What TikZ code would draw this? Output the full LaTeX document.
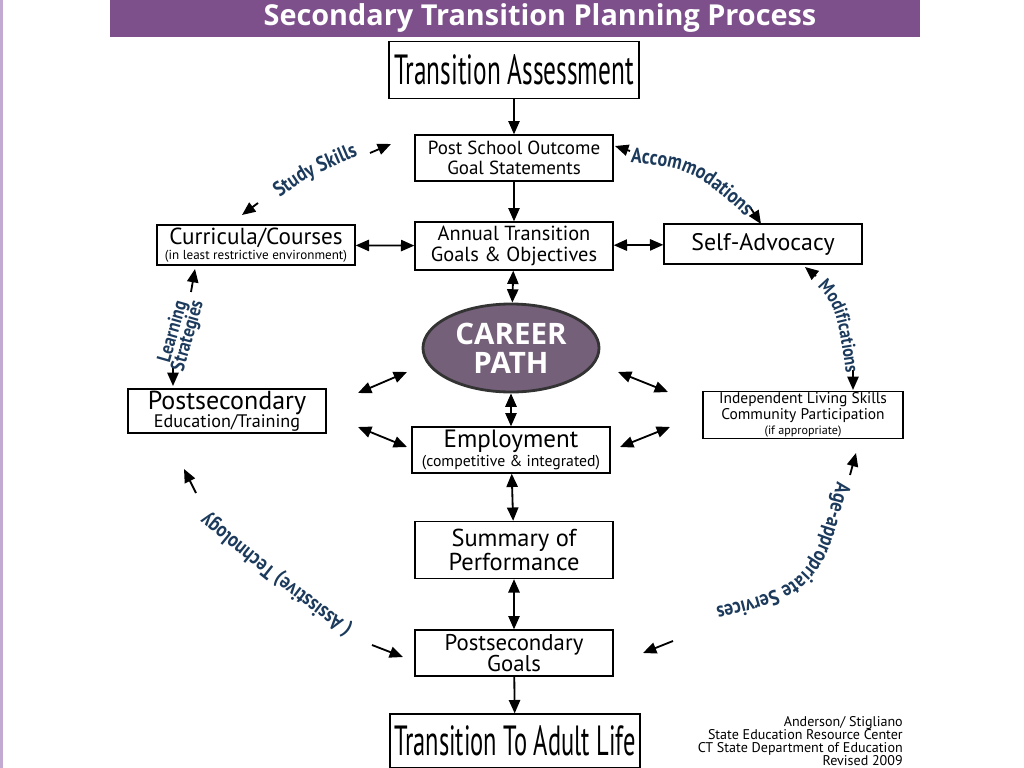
\documentclass[tikz,border=0pt]{standalone}
\usepackage{fontspec}
\setmainfont{PT Sans}
\newfontfamily\labelfamily[FakeStretch=0.85]{PT Sans}
\newfontfamily\titlefamily{Open Sans}
\usetikzlibrary{shapes.geometric, arrows.meta, positioning, decorations.text}
\definecolor{barpurple}{RGB}{125,80,140}
\definecolor{pathpurple}{RGB}{117,96,122}
\definecolor{labelblue}{RGB}{28,58,92}
\definecolor{edgepurple}{RGB}{195,170,210}
\newcommand\labelfont{\labelfamily\bfseries\fontsize{15}{16}\selectfont}
\newcommand\smalllabelfont{\labelfamily\bfseries\fontsize{13.5}{15}\selectfont}
\newcommand\narrow[1]{\scalebox{0.6}[1]{#1}}
\tikzset{
    box/.style={draw, line width=0.9pt, fill=white, align=center, inner sep=1pt},
    stagebox/.style={box, minimum width=4.95cm, minimum height=1.15cm},
    sidebox/.style={box, minimum width=4.95cm, minimum height=1cm},
    bigbox/.style={box, minimum width=6.25cm, minimum height=1.425cm, font=\fontsize{30}{32}\selectfont},
    hub/.style={ellipse, draw=black!80, line width=2pt, fill=pathpurple, minimum width=4.4cm, minimum height=2.2cm, text=white, align=center, font=\titlefamily\bfseries\fontsize{21}{20.5}\selectfont},
    labeltext/.style={text=labelblue, font=\labelfont},
    curvelabel/.style={decorate, decoration={text along path, text={|\labelfont|#1}, text align=center, text color=labelblue}},
    smallcurvelabel/.style={decorate, decoration={text along path, text={|\smalllabelfont|#1}, text align=center, text color=labelblue}},
    arrow/.style={-{Triangle[length=9.5pt,width=8pt]}, line width=1.3pt},
    twoway/.style={{Triangle[length=9.5pt,width=8pt]}-{Triangle[length=9.5pt,width=8pt]}, line width=1.3pt}
}

\begin{document}
\begin{tikzpicture}[x=0.025cm, y=-0.025cm]
    \useasboundingbox (0,0) rectangle (1024,768);
    \fill[edgepurple] (0,0) rectangle (3,768);
    \fill[barpurple] (110,0) rectangle (920,37);
    \node (title) at (540,18) [text=white, font=\titlefamily\bfseries\fontsize{20.5}{22}\selectfont] {Secondary Transition Planning Process};

    \node (assess) [bigbox] at (514,70) {\narrow{Transition Assessment}};
    \node (outcome) [stagebox, font=\fontsize{13.5}{14.5}\selectfont] at (514,158) {Post School Outcome\\Goal Statements};
    \node (annual) [stagebox, minimum height=1.2cm, font=\fontsize{14.5}{15}\selectfont] at (514,246) {Annual Transition\\Goals \& Objectives};
    \node (courses) [sidebox, font=\fontsize{16.5}{12}\selectfont] at (256,245) {Curricula/Courses\\[-1pt]{\fontsize{9.3}{9}\selectfont (in least restrictive environment)}};
    \node (advocacy) [sidebox, font=\fontsize{17}{18}\selectfont] at (763,244) {Self-Advocacy};
    \node (career) [hub] at (511,348) {CAREER\\PATH};
    \node (training) [sidebox, minimum height=1.1cm, font=\fontsize{18.5}{13}\selectfont] at (227,411) {Postsecondary\\{\fontsize{12.9}{13}\selectfont Education/Training}};
    \node (living) [sidebox, minimum width=5cm, minimum height=1.175cm, font=\fontsize{11}{10}\selectfont] at (803,415) {Independent Living Skills\\Community Participation\\[1pt]{\fontsize{8.6}{9}\selectfont (if appropriate)}};
    \node (employ) [stagebox, font=\fontsize{17.8}{14}\selectfont] at (511,450) {Employment\\{\fontsize{11.2}{12}\selectfont (competitive \& integrated)}};
    \node (summary) [stagebox, minimum height=1.425cm, font=\fontsize{17.4}{17}\selectfont] at (514,550) {Summary of\\Performance};
    \node (goals) [stagebox, font=\fontsize{16.2}{15.5}\selectfont] at (514,653) {Postsecondary\\Goals};
    \node (adult) [bigbox, minimum height=1.35cm] at (515,741) {\scalebox{0.58}[1]{Transition To Adult Life}};

    \node (credits) [anchor=north east, align=right, inner sep=0pt, font=\fontsize{10}{9.4}\selectfont] at (903,716) {Anderson/ Stigliano\\State Education Resource Center\\CT State Department of Education\\Revised 2009};

    \draw [arrow] (assess) -- (outcome);
    \draw [arrow] (outcome) -- (annual);
    \draw [twoway] (annual) -- (career);
    \draw [twoway] (courses) -- (annual);
    \draw [twoway] (annual) -- (advocacy);
    \draw [twoway] (career) -- (employ);
    \draw [twoway] (employ) -- (summary);
    \draw [twoway] (summary) -- (goals);
    \draw [arrow] (goals) -- (adult);

    % free arrows round the career path
    \coordinate (lu1) at (358,393); \coordinate (lu2) at (407,372);
    \coordinate (ll1) at (358,427); \coordinate (ll2) at (407,447);
    \coordinate (ru1) at (618,372); \coordinate (ru2) at (668,392);
    \coordinate (rl1) at (620,447); \coordinate (rl2) at (670,427);
    \draw [twoway] (lu1) -- (lu2);
    \draw [twoway] (ll1) -- (ll2);
    \draw [twoway] (ru1) -- (ru2);
    \draw [twoway] (rl1) -- (rl2);

    % outer ring
    \coordinate (ss1) at (370,153); \coordinate (ss2) at (391,144);
    \coordinate (ss3) at (258,203); \coordinate (ss4) at (242,215);
    \coordinate (ac1) at (630,151); \coordinate (ac2) at (615,146);
    \coordinate (ac3) at (750,207); \coordinate (ac4) at (761,224);
    \coordinate (md1) at (816,276); \coordinate (md2) at (805,267);
    \coordinate (md3) at (853,370); \coordinate (md4) at (853,390);
    \coordinate (as1) at (850,475); \coordinate (as2) at (856,453);
    \coordinate (gr1) at (673,641); \coordinate (gr2) at (643,653);
    \coordinate (gl1) at (372,645); \coordinate (gl2) at (403,657);
    \coordinate (at1) at (196,493); \coordinate (at2) at (184,469);
    \coordinate (ls1) at (191,292); \coordinate (ls2) at (195,269);
    \coordinate (ls3) at (173,367); \coordinate (ls4) at (173,386);
    \foreach \a/\b in {ss1/ss2, ss3/ss4, ac1/ac2, ac3/ac4, md1/md2, md3/md4, as1/as2, gr1/gr2, gl1/gl2, at1/at2, ls1/ls2, ls3/ls4}
        \draw [arrow] (\a) -- (\b);

    \path [curvelabel=Study Skills] (268,207) .. controls (305,178) .. (372,150);
    \path [curvelabel=Accommodations] (614,161) .. controls (693,168) .. (758,228);
    \path [smallcurvelabel=Modifications] (808,278) .. controls (836,304) .. (848,386);
    \path [curvelabel=Age-appropriate Services] (842,462) .. controls (812,585) .. (696,612);
    \path [curvelabel=( Assisstive) Technology] (362,634) .. controls (284,576) .. (198,506);
    \node (strategies) [labeltext, rotate=74, align=center, font=\labelfamily\bfseries\fontsize{14}{15}\selectfont] at (181,334) {Learning\\[-4pt]Strategies};
\end{tikzpicture}
\end{document}
